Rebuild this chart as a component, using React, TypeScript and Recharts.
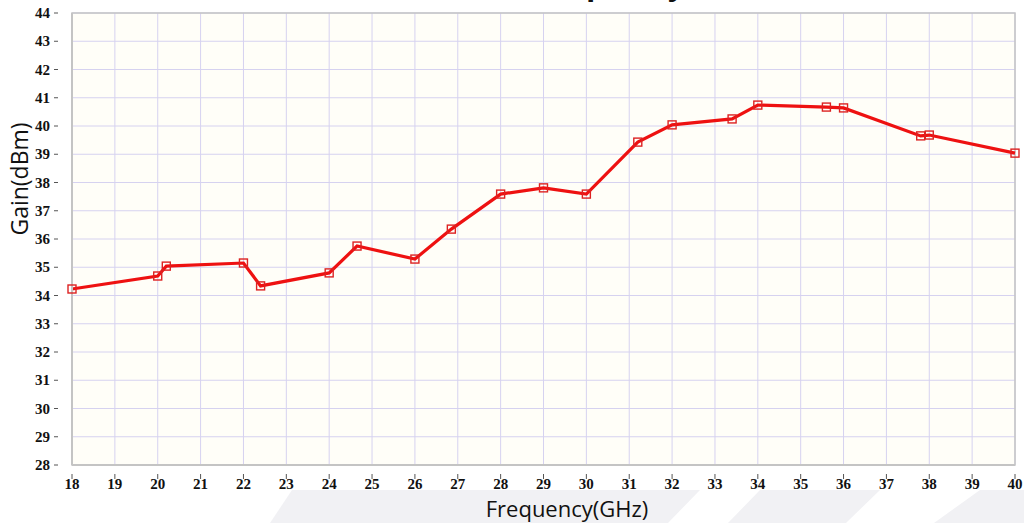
import React from "react";
import {
  LineChart,
  Line,
  XAxis,
  YAxis,
  CartesianGrid,
  ReferenceArea,
  Label,
} from "recharts";

// measured points, GHz -> dBm
const FREQ = [18, 20, 20.2, 22, 22.4, 24, 24.65, 26, 26.85, 28, 29, 30, 31.2, 32, 33.4, 34, 35.6, 36, 37.8, 38, 40];
const GAIN = [34.23, 34.69, 35.04, 35.15, 34.34, 34.8, 35.75, 35.29, 36.35, 37.59, 37.81, 37.59, 39.43, 40.04, 40.25, 40.74, 40.67, 40.64, 39.65, 39.68, 39.04];

const X_TICKS = [18, 19, 20, 21, 22, 23, 24, 25, 26, 27, 28, 29, 30, 31, 32, 33, 34, 35, 36, 37, 38, 39, 40];
const Y_TICKS = [28, 29, 30, 31, 32, 33, 34, 35, 36, 37, 38, 39, 40, 41, 42, 43, 44];

const TITLE = "Gain vs Frequency";
const X_TITLE = "Frequency(GHz)";
const Y_TITLE = "Gain(dBm)";

const data = FREQ.map((f, i) => ({ freq: f, gain: GAIN[i] }));

const LINE_COLOR = "#ee1111";
const GRID_COLOR = "#d6d2f0";
const FRAME_COLOR = "#c4c4c4";
const TICK_FONT = "'Liberation Serif', 'DejaVu Serif', serif";
const TITLE_FONT = "'Open Sans', 'Noto Sans', sans-serif";

function SquareDot(props: { cx?: number; cy?: number; index?: number }) {
  const { cx, cy, index } = props;
  if (cx == null || cy == null) return null;
  return (
    <rect
      key={`dot-${index}`}
      x={cx - 4}
      y={cy - 4}
      width={8}
      height={8}
      fill="none"
      stroke="#dd2222"
      strokeWidth={1.4}
    />
  );
}

function YTick(props: { x?: number; y?: number; payload?: { value: number } }) {
  const { x = 0, y = 0, payload } = props;
  return (
    <g>
      <text x={x - 14} y={y + 5} textAnchor="end" fontFamily={TICK_FONT} fontWeight={700} fontSize={15} fill="#111">
        {payload?.value}
      </text>
      <line x1={x - 10} x2={x - 6} y1={y} y2={y} stroke="#555" strokeWidth={1} />
    </g>
  );
}

function XTick(props: { x?: number; y?: number; payload?: { value: number } }) {
  const { x = 0, y = 0, payload } = props;
  return (
    <g>
      <line x1={x} x2={x} y1={y + 1} y2={y + 6} stroke="#555" strokeWidth={1} />
      <text x={x} y={y + 16} textAnchor="middle" fontFamily={TICK_FONT} fontWeight={700} fontSize={15} fill="#111">
        {payload?.value}
      </text>
    </g>
  );
}

export default function App() {
  return (
    <div style={{ position: "absolute", left: 0, top: 0, width: 1024, height: 523, background: "#ffffff", overflow: "hidden" }}>
      {/* faint watermark stripes along the bottom */}
      <svg width={1024} height={523} style={{ position: "absolute", left: 0, top: 0 }}>
        <polygon points="292,490 700,490 668,523 270,523" fill="#f1f1f4" />
        <polygon points="760,490 880,490 846,523 728,523" fill="#f1f1f4" />
        <polygon points="980,490 1024,490 1024,523 934,523" fill="#f1f1f4" />
      </svg>
      <div style={{ position: "absolute", left: 0, top: 0 }}>
        <LineChart width={1024} height={523} data={data} margin={{ top: 13, right: 9, bottom: 28, left: 22 }}>
          <text x={685} y={-5} textAnchor="end" fontFamily={TITLE_FONT} fontWeight={700} fontSize={30} fill="#111">
            {TITLE}
          </text>
          <CartesianGrid stroke={GRID_COLOR} fill="#fffef8" fillOpacity={1} />
          <XAxis
            dataKey="freq"
            type="number"
            domain={[18, 40]}
            ticks={X_TICKS}
            interval={0}
            height={30}
            tick={<XTick />}
            tickLine={false}
            axisLine={{ stroke: FRAME_COLOR, strokeWidth: 2 }}
          >
            <Label
              content={() => (
                <text x={567} y={517} textAnchor="middle" fontFamily={TITLE_FONT} fontSize={22} fill="#111">
                  {X_TITLE}
                </text>
              )}
            />
          </XAxis>
          <YAxis
            type="number"
            domain={[28, 44]}
            ticks={Y_TICKS}
            interval={0}
            width={50}
            tick={<YTick />}
            tickLine={false}
            axisLine={{ stroke: FRAME_COLOR, strokeWidth: 2 }}
          >
            <Label
              content={() => (
                <text
                  x={28}
                  y={179}
                  textAnchor="middle"
                  transform="rotate(-90 28 179)"
                  fontFamily={TITLE_FONT}
                  fontSize={23}
                  fill="#111"
                >
                  {Y_TITLE}
                </text>
              )}
            />
          </YAxis>
          <ReferenceArea x1={18} x2={40} y1={28} y2={44} fill="none" stroke={FRAME_COLOR} strokeWidth={1.5} />
          <Line
            dataKey="gain"
            type="linear"
            stroke={LINE_COLOR}
            strokeWidth={3.2}
            dot={<SquareDot />}
            activeDot={false}
            isAnimationActive={false}
          />
        </LineChart>
      </div>
    </div>
  );
}
